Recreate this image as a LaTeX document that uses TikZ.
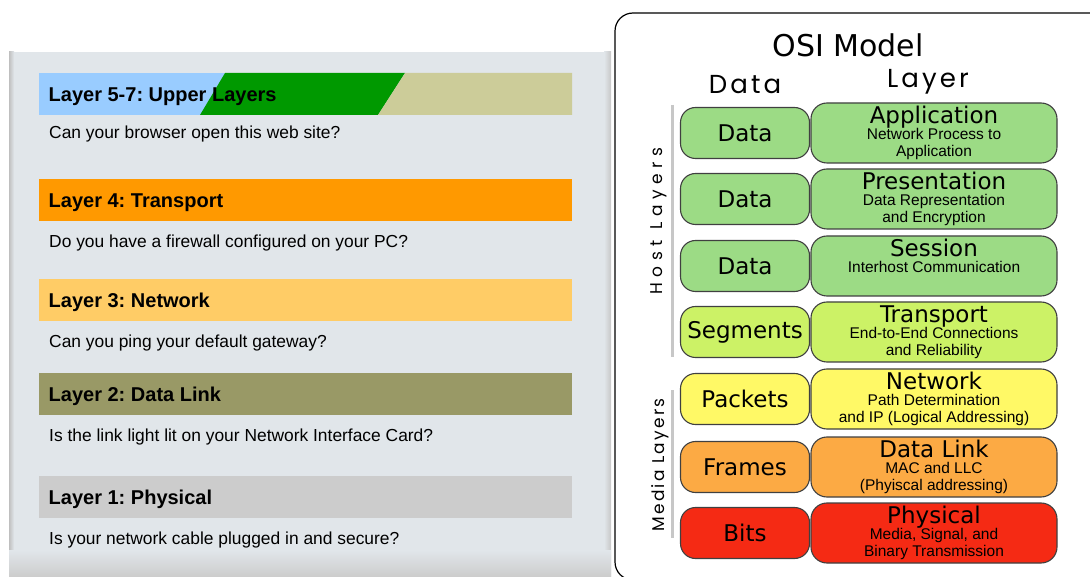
\documentclass[tikz,border=0pt]{standalone}
\usepackage{fontspec}
\setmainfont{Liberation Sans}
\newfontfamily\osifont{DejaVu Sans}
\newfontfamily\geofont[LetterSpace=12]{Poppins}
\newfontfamily\hostfont[LetterSpace=33]{Poppins}
\newfontfamily\mediafont[LetterSpace=13]{Poppins}
\usetikzlibrary{positioning}
\frenchspacing

% troubleshooting panel colours
\definecolor{panelbg}{HTML}{E1E6EA}
\definecolor{upperblue}{HTML}{99CCFF}
\definecolor{uppergreen}{HTML}{009900}
\definecolor{upperkhaki}{HTML}{CCCC99}
\definecolor{transorange}{HTML}{FF9900}
\definecolor{netorange}{HTML}{FFCC66}
\definecolor{linkolive}{HTML}{999966}
\definecolor{physgray}{HTML}{CCCCCC}
% osi stack colours
\definecolor{hostgreen}{HTML}{9CDB85}
\definecolor{transgreen}{HTML}{CCF266}
\definecolor{netyellow}{HTML}{FFF966}
\definecolor{linkamber}{HTML}{FCAA44}
\definecolor{physred}{HTML}{F52A14}

\tikzset{
    bar/.style={minimum width=533, minimum height=42, inner sep=0, anchor=north west},
    bartitle/.style={font=\fontsize{20}{22}\selectfont\bfseries, anchor=west, inner sep=0, yshift=-2.5pt},
    question/.style={font=\fontsize{17.4}{20}\selectfont, anchor=west, inner sep=0},
    unit/.style={draw=black!75, line width=1.1pt, rounded corners=15, minimum width=129,
        minimum height=51, inner sep=0, font=\osifont\fontsize{23}{26}\selectfont},
    layer/.style={draw=black!75, line width=1.1pt, rounded corners=16, minimum width=246,
        minimum height=60, inner sep=0},
    layertitle/.style={font=\osifont\fontsize{23}{26}\selectfont, anchor=base, inner sep=0},
    layerdesc/.style={font=\fontsize{15.5}{16}\selectfont, anchor=base, inner sep=0},
    groupline/.style={draw=black!22, line width=3pt},
    grouplabel/.style={rotate=90, font=\fontsize{17}{20}\selectfont},
    colhead/.style={font=\geofont\fontsize{26}{28}\selectfont},
}

\begin{document}
\begin{tikzpicture}[x=1pt, y=-1pt]
    \useasboundingbox (0,0) rectangle (1090,577);
    \clip (0,0) rectangle (1090,577);

    % left panel with its soft shadow
    \fill[panelbg] (9,52) rectangle (611,577);
    \shade[left color=black!25, right color=panelbg] (9,52) rectangle (14,577);
    \shade[left color=panelbg, right color=black!22] (604,52) rectangle (611,577);
    \shade[top color=panelbg, bottom color=black!20] (9,550) rectangle (611,577);

    % layer 5-7
    \node[bar, fill=upperblue] (upbar) at (39,73) {};
    \fill[uppergreen] (225,73) -- (405,73) -- (378,115) -- (200,115) -- cycle;
    \fill[upperkhaki] (405,73) -- (572,73) -- (572,115) -- (378,115) -- cycle;
    \node[bartitle] (uptitle) at ([xshift=9.5pt]upbar.west) {Layer 5-7: Upper Layers};
    \node[question] (upq) at (49,134) {Can your browser open this web site?};

    % layer 4
    \node[bar, fill=transorange] (l4bar) at (39,179) {};
    \node[bartitle] (l4title) at ([xshift=9.5pt]l4bar.west) {Layer 4: Transport};
    \node[question] (l4q) at (49,243) {Do you have a firewall configured on your PC?};

    % layer 3
    \node[bar, fill=netorange] (l3bar) at (39,279) {};
    \node[bartitle] (l3title) at ([xshift=9.5pt]l3bar.west) {Layer 3: Network};
    \node[question] (l3q) at (49,343) {Can you ping your default gateway?};

    % layer 2
    \node[bar, fill=linkolive] (l2bar) at (39,373) {};
    \node[bartitle] (l2title) at ([xshift=9.5pt]l2bar.west) {Layer 2: Data Link};
    \node[question] (l2q) at (49,437) {Is the link light lit on your Network Interface Card?};

    % layer 1
    \node[bar, fill=physgray] (l1bar) at (39,476) {};
    \node[bartitle] (l1title) at ([xshift=9.5pt]l1bar.west) {Layer 1: Physical};
    \node[question] (l1q) at (49,540) {Is your network cable plugged in and secure?};

    % osi model frame
    \fill[white] (615,13) rectangle (1120,580);
    \draw[line width=1.2pt, rounded corners=18] (615,13) rectangle (1120,580);
    \node[font=\osifont\fontsize{30}{32}\selectfont] (osititle) at (848,45) {OSI Model};
    \node[colhead] (datahead) at (745,85) {Data};
    \node[colhead] (layerhead) at (928,82) {Layer};

    % host layers
    \node[unit, fill=hostgreen] (appdata) at (745,133) {Data};
    \node[layer, fill=hostgreen] (app) at (934,133) {};
    \node[layertitle] (appt) at ([yshift=-21pt]app.north) {Application};
    \node[layerdesc] (appd1) at ([yshift=-37.5pt]app.north) {Network Process to};
    \node[layerdesc] (appd2) at ([yshift=-54.5pt]app.north) {Application};

    \node[unit, fill=hostgreen] (presdata) at (745,199) {Data};
    \node[layer, fill=hostgreen] (pres) at (934,199) {};
    \node[layertitle] (prest) at ([yshift=-21pt]pres.north) {Presentation};
    \node[layerdesc] (presd1) at ([yshift=-37.5pt]pres.north) {Data Representation};
    \node[layerdesc] (presd2) at ([yshift=-54.5pt]pres.north) {and Encryption};

    \node[unit, fill=hostgreen] (sessdata) at (745,266) {Data};
    \node[layer, fill=hostgreen] (sess) at (934,266) {};
    \node[layertitle] (sesst) at ([yshift=-21pt]sess.north) {Session};
    \node[layerdesc] (sessd1) at ([yshift=-37.5pt]sess.north) {Interhost Communication};

    \node[unit, fill=transgreen] (segdata) at (745,332) {Segments};
    \node[layer, fill=transgreen] (trans) at (934,332) {};
    \node[layertitle] (transt) at ([yshift=-21pt]trans.north) {Transport};
    \node[layerdesc] (transd1) at ([yshift=-37.5pt]trans.north) {End-to-End Connections};
    \node[layerdesc] (transd2) at ([yshift=-54.5pt]trans.north) {and Reliability};

    % media layers
    \node[unit, fill=netyellow] (pktdata) at (745,399) {Packets};
    \node[layer, fill=netyellow] (net) at (934,399) {};
    \node[layertitle] (nett) at ([yshift=-21pt]net.north) {Network};
    \node[layerdesc] (netd1) at ([yshift=-37.5pt]net.north) {Path Determination};
    \node[layerdesc] (netd2) at ([yshift=-54.5pt]net.north) {and IP (Logical Addressing)};

    \node[unit, fill=linkamber] (framedata) at (745,467) {Frames};
    \node[layer, fill=linkamber] (link) at (934,467) {};
    \node[layertitle] (linkt) at ([yshift=-21pt]link.north) {Data Link};
    \node[layerdesc] (linkd1) at ([yshift=-37.5pt]link.north) {MAC and LLC};
    \node[layerdesc] (linkd2) at ([yshift=-54.5pt]link.north) {(Phyiscal addressing)};

    \node[unit, fill=physred] (bitdata) at (745,533) {Bits};
    \node[layer, fill=physred] (phys) at (934,533) {};
    \node[layertitle] (physt) at ([yshift=-21pt]phys.north) {Physical};
    \node[layerdesc] (physd1) at ([yshift=-37.5pt]phys.north) {Media, Signal, and};
    \node[layerdesc] (physd2) at ([yshift=-54.5pt]phys.north) {Binary Transmission};

    % group brackets
    \draw[groupline] (672,105) -- (672,357);
    \draw[groupline] (672,390) -- (672,538);
    \node[grouplabel] (hostlabel) at (659,221) {\hostfont Host Layers};
    \node[grouplabel] (medialabel) at (660,465) {\mediafont Media Layers};
\end{tikzpicture}
\end{document}
